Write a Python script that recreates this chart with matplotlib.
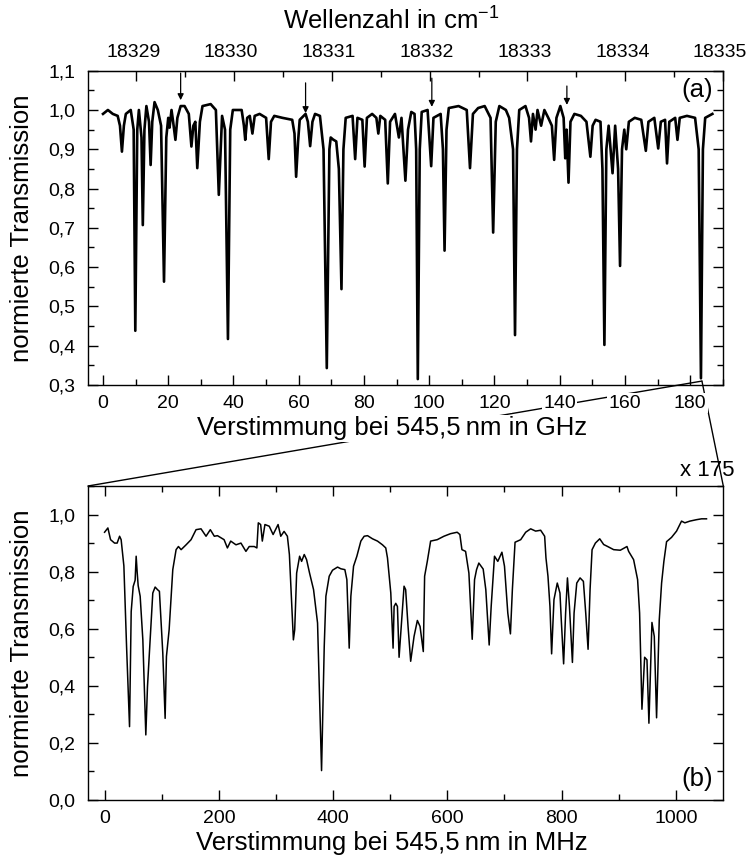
import matplotlib
matplotlib.use("Agg")
import matplotlib.pyplot as plt
import matplotlib.transforms as mtransforms
from matplotlib.ticker import MultipleLocator, FuncFormatter, FixedLocator
from matplotlib.patches import ConnectionPatch

plt.rcParams['font.family'] = ['Liberation Sans', 'DejaVu Sans']

# ---- panel (a): detuning in GHz vs. normalized transmission ----
a_x = [0.0, 1.5, 3.0, 4.5, 5.2, 5.8, 6.4, 7.0, 8.5, 9.4, 9.9, 10.5, 11.0, 11.8, 12.2, 12.7,
       13.3, 14.1, 14.6, 15.1, 15.8, 16.8, 17.8, 18.7, 19.4, 20.0, 20.4, 21.0, 21.5, 22.2, 22.8,
       23.8, 25.0, 26.3, 27.1, 27.7, 28.3, 28.9, 29.7, 30.5, 33.0, 34.6, 35.5, 36.5, 37.4,
       38.3, 39.0, 39.8, 42.5, 43.2, 43.6, 44.2, 45.0, 45.8, 46.5, 48.0, 50.0, 50.8, 51.5,
       52.5, 55.0, 58.0, 58.7, 59.2, 59.8, 60.3, 61.5, 62.1, 62.8, 63.5, 64.2, 65.0, 66.5,
       67.6, 68.6, 69.4, 69.8, 70.5, 71.5, 72.3, 73.1, 73.7, 74.4, 76.5, 77.3, 78.0, 79.5,
       80.2, 80.9, 82.5, 83.8, 84.4, 85.0, 86.5, 87.3, 88.0, 89.5, 90.7, 91.5, 92.7, 93.5,
       94.5, 95.5, 96.0, 96.5, 97.1, 97.7, 99.5, 100.6, 101.3, 103.5, 104.2, 104.7, 105.3,
       106.0, 109.0, 111.5, 112.5, 113.4, 115.0, 117.0, 118.8, 119.6, 120.4, 121.5, 123.5,
       124.5, 125.7, 126.3, 126.9, 127.6, 129.5, 130.6, 131.2, 131.8, 132.6, 133.2, 134.3,
       135.3, 136.5, 137.6, 138.3, 139.0, 140.2, 141.2, 141.7, 142.1, 142.7, 143.3, 144.5,
       146.5, 148.2, 149.4, 150.1, 151.0, 152.5, 153.1, 153.7, 154.3, 155.0, 156.2, 157.0,
       157.9, 158.5, 159.1, 159.8, 160.4, 161.2, 163.0, 165.0, 166.4, 167.2, 169.0, 170.2,
       171.0, 172.3, 172.9, 173.6, 175.4, 176.1, 176.8, 179.0, 181.5, 182.6, 183.3, 183.9,
       184.6, 186.8]
a_y = [0.99, 1.0, 0.99, 0.985, 0.96, 0.894, 0.96, 0.99, 1.0, 0.95, 0.438, 0.95, 1.0, 0.93, 0.707, 0.95,
       1.01, 0.97, 0.86, 0.97, 1.02, 1.0, 0.96, 0.563, 0.93, 0.98, 0.955, 1.0, 0.97, 0.924, 0.98,
       1.01, 1.01, 0.99, 0.907, 0.96, 0.97, 0.852, 0.97, 1.01, 1.015, 1.0, 0.784, 0.985, 0.95,
       0.417, 0.95, 1.0, 1.0, 0.96, 0.924, 0.98, 0.985, 0.94, 0.985, 0.99, 0.98, 0.875, 0.97,
       0.985, 0.98, 0.975, 0.94, 0.83, 0.92, 0.975, 0.985, 0.99, 0.97, 0.908, 0.97, 0.99, 0.985,
       0.9, 0.343, 0.9, 0.93, 0.925, 0.92, 0.85, 0.544, 0.9, 0.98, 0.985, 0.875, 0.98, 0.975,
       0.856, 0.98, 0.99, 0.98, 0.94, 0.985, 0.975, 0.813, 0.97, 0.99, 0.93, 0.98, 0.82, 0.95,
       0.995, 0.99, 0.9, 0.315, 0.9, 0.995, 1.0, 0.857, 0.98, 0.99, 0.9, 0.642, 0.95,
       1.005, 1.01, 1.0, 0.852, 0.99, 1.005, 1.01, 0.98, 0.688, 0.97, 1.01, 1.0,
       0.98, 0.9, 0.427, 0.9, 1.0, 1.01, 0.98, 0.92, 0.99, 0.95, 1.0, 0.96,
       1.0, 0.98, 0.96, 0.873, 0.98, 1.01, 0.98, 0.877, 0.95, 0.815, 0.97, 0.99,
       0.985, 0.97, 0.881, 0.96, 0.975, 0.97, 0.85, 0.402, 0.9, 0.96, 0.839, 0.96,
       0.85, 0.603, 0.9, 0.95, 0.9, 0.97, 0.98, 0.975, 0.896, 0.97, 0.98, 0.902,
       0.97, 0.975, 0.864, 0.97, 0.98, 0.924, 0.98, 0.985, 0.98, 0.9, 0.317, 0.9,
       0.98, 0.99]

# arrows in panel (a): position (GHz), tail and head heights
arrow_x = [23.8, 62.1, 100.8, 142.2]
arrow_tail = [1.094, 1.069, 1.081, 1.061]
arrow_head = [1.025, 0.992, 1.008, 1.013]

# ---- panel (b): detuning in MHz vs. normalized transmission ----
b_x = [0.0, 5.8, 10.5, 17.5, 22.0, 26.3, 29.0, 33.8, 38.5, 43.7, 44.9, 46.6, 50.1, 53.5, 55.3, 57.0,
       58.8, 62.3, 67.0, 72.2, 75.1, 79.7, 84.4, 88.5, 92.6, 96.0, 101.9, 106.0, 108.3, 113.0,
       119.4, 125.2, 129.3, 134.0, 142.7, 151.4, 160.1, 168.8, 177.6, 185.1, 192.1, 197.6, 209.2,
       215.0, 220.8, 230.0, 238.7, 247.4, 253.2, 262.0, 266.6, 269.1, 273.2, 276.1, 280.7, 288.3,
       295.0, 303.7, 308.4, 314.2, 320.0, 323.5, 327.0, 330.5, 332.8, 336.2, 341.4, 344.9, 349.5,
       353.6, 358.8, 365.8, 372.8, 379.8, 384.5, 387.4, 393.2, 399.0, 407.8, 413.6, 420.6, 424.1,
       428.2, 431.1, 435.8, 441.6, 448.6, 454.4, 460.3, 469.0, 477.7, 486.4, 492.2, 495.2, 501.0,
       505.0, 506.8, 509.7, 512.6, 515.5, 519.6, 524.2, 527.0, 531.2, 535.8, 541.7, 547.5, 552.2,
       557.9, 560.2, 564.9, 570.7, 582.3, 594.0, 605.6, 617.2, 621.9, 625.5, 631.9, 637.7, 640.6,
       643.5, 647.6, 651.1, 655.1, 662.7, 667.3, 673.2, 676.7, 682.5, 688.3, 695.5, 700.0, 705.8,
       710.4, 713.8, 718.5, 728.4, 737.1, 745.8, 754.5, 763.3, 770.3, 772.6, 776.1, 779.6, 782.5,
       786.6, 792.4, 797.1, 799.4, 803.5, 807.0, 810.2, 813.7, 818.9, 821.8, 826.5, 832.3, 838.1,
       842.2, 846.3, 849.8, 853.3, 859.1, 866.7, 873.6, 880.6, 891.1, 902.7, 914.4, 917.3, 926.0,
       933.0, 936.5, 940.6, 945.3, 949.4, 952.8, 958.1, 962.2, 966.2, 970.9, 975.0, 979.0, 983.7,
       992.4, 1001.2, 1009.9, 1015.7, 1024.5, 1036.1, 1044.9, 1053.6]
b_y = [0.938, 0.953, 0.912, 0.90, 0.90, 0.924, 0.912, 0.82, 0.538, 0.257, 0.42, 0.66, 0.748, 0.77, 0.854, 0.80,
       0.751, 0.714, 0.561, 0.228, 0.397, 0.561, 0.725, 0.746, 0.737, 0.731, 0.515, 0.286, 0.503, 0.596,
       0.807, 0.877, 0.888, 0.877, 0.894, 0.912, 0.947, 0.950, 0.924, 0.947, 0.924, 0.926, 0.912,
       0.883, 0.907, 0.894, 0.900, 0.871, 0.888, 0.888, 0.883, 0.971, 0.965, 0.907, 0.965, 0.959,
       0.930, 0.965, 0.924, 0.941, 0.924, 0.860, 0.714, 0.561, 0.596, 0.795, 0.854, 0.836, 0.860,
       0.842, 0.795, 0.737, 0.620, 0.103, 0.538, 0.714, 0.784, 0.805, 0.816, 0.810, 0.807, 0.772,
       0.532, 0.714, 0.819, 0.854, 0.907, 0.924, 0.926, 0.915, 0.907, 0.894, 0.883, 0.848, 0.725,
       0.532, 0.678, 0.689, 0.678, 0.500, 0.620, 0.749, 0.737, 0.608, 0.486, 0.573, 0.629, 0.608,
       0.520, 0.784, 0.836, 0.907, 0.912, 0.924, 0.933, 0.938, 0.930, 0.877, 0.871, 0.795, 0.678,
       0.563, 0.772, 0.807, 0.830, 0.809, 0.737, 0.543, 0.678, 0.854, 0.836, 0.868, 0.819, 0.655,
       0.582, 0.737, 0.903, 0.912, 0.938, 0.950, 0.942, 0.945, 0.924, 0.848, 0.784, 0.678, 0.512,
       0.702, 0.760, 0.725, 0.631, 0.477, 0.655, 0.778, 0.678, 0.482, 0.655, 0.760, 0.778, 0.766,
       0.655, 0.528, 0.737, 0.877, 0.900, 0.915, 0.895, 0.888, 0.877, 0.875, 0.888, 0.871, 0.842,
       0.772, 0.655, 0.318, 0.500, 0.491, 0.269, 0.622, 0.573, 0.288, 0.631, 0.760, 0.836, 0.905,
       0.920, 0.942, 0.977, 0.971, 0.977, 0.982, 0.985, 0.985]

# wavenumber scale (top axis of panel a)
wn_ref = 18329.0     # cm^-1 at ...
ghz_ref = 10.2       # ... this detuning in GHz
ghz_per_wn = 29.98
wn_ticks = [18329, 18330, 18331, 18332, 18333, 18334, 18335]

W, H = 752, 859
fig = plt.figure(figsize=(W / 100, H / 100), dpi=100)

def rect(l, r, t, b):
    return [l / W, 1 - b / H, (r - l) / W, (b - t) / H]

axa = fig.add_axes(rect(88, 723.3, 70.7, 385))
axb = fig.add_axes(rect(88, 723.3, 486, 800))

comma = FuncFormatter(lambda v, p: f"{v:.1f}".replace('.', ','))
tick_fs = 14
label_fs = 18.5
xpad = 7
ypad = 9
label_xc = 0.478   # horizontal centre of the axis titles (axes fraction)

def style_ticks(ax, top):
    ax.tick_params(which='both', direction='in', top=top, right=True, labelsize=tick_fs, width=1)
    ax.tick_params(axis='x', which='both', pad=xpad)
    ax.tick_params(axis='y', which='both', pad=ypad)
    ax.tick_params(which='major', length=7)
    ax.tick_params(which='minor', length=4)

# panel a
axa.plot(a_x, a_y, color='black', lw=1.9, solid_joinstyle='round')
XLIM_A = (-4.6, 190.15)
axa.set_xlim(*XLIM_A)
axa.set_ylim(0.3, 1.1)
axa.xaxis.set_major_locator(MultipleLocator(20))
axa.xaxis.set_minor_locator(MultipleLocator(10))
axa.yaxis.set_major_locator(MultipleLocator(0.1))
axa.yaxis.set_minor_locator(MultipleLocator(0.05))
axa.yaxis.set_major_formatter(comma)
style_ticks(axa, False)
axa.set_xlabel('Verstimmung bei 545,5\u2009nm in GHz', fontsize=label_fs, labelpad=2,
               bbox=dict(facecolor='white', edgecolor='none', pad=1))
axa.xaxis.set_label_coords(label_xc, -0.1)
axa.xaxis.label.set_va('top')
axa.set_ylabel('normierte Transmission', fontsize=label_fs, labelpad=10)
axa.text(0.984, 0.939, '(a)', transform=axa.transAxes, ha='right', va='center', fontsize=label_fs)
for xa, yt, yh in zip(arrow_x, arrow_tail, arrow_head):
    axa.annotate('', xy=(xa, yh), xytext=(xa, yt),
                 arrowprops=dict(arrowstyle='-|>', color='black', lw=0.9, mutation_scale=9,
                                 shrinkA=0, shrinkB=0))

sec = axa.secondary_xaxis('top', functions=(lambda g: wn_ref + (g - ghz_ref) / ghz_per_wn,
                                             lambda w: ghz_ref + (w - wn_ref) * ghz_per_wn))
sec.xaxis.set_minor_locator(MultipleLocator(0.5))
sec.set_xticks(wn_ticks, [str(t) for t in wn_ticks])
sec.tick_params(which='both', direction='in', labelsize=tick_fs, width=1, pad=xpad)
sec.tick_params(which='major', length=7)
sec.tick_params(which='minor', length=4)
sec.set_xlabel('Wellenzahl in cm$^{\\mathregular{-1}}$', fontsize=label_fs)
sec.xaxis.set_label_coords(label_xc, 1.161, transform=axa.transAxes)
sec.xaxis.label.set_va('center')
shift = mtransforms.ScaledTranslation(-3 / 100, 0, fig.dpi_scale_trans)
for lbl in sec.xaxis.get_majorticklabels():
    lbl.set_transform(lbl.get_transform() + shift)

# panel b
axb.plot(b_x, b_y, color='black', lw=1.1)
axb.set_xlim(-29, 1083)
axb.set_ylim(0.0, 1.1)
axb.xaxis.set_major_locator(MultipleLocator(200))
axb.xaxis.set_minor_locator(MultipleLocator(100))
axb.yaxis.set_major_locator(MultipleLocator(0.2))
axb.yaxis.set_minor_locator(MultipleLocator(0.1))
axb.yaxis.set_major_formatter(comma)
style_ticks(axb, True)
axb.set_xlabel('Verstimmung bei 545,5\u2009nm in MHz', fontsize=label_fs, labelpad=2)
axb.xaxis.set_label_coords(label_xc, -0.1)
axb.xaxis.label.set_va('top')
axb.set_ylabel('normierte Transmission', fontsize=label_fs, labelpad=10)
axb.text(0.984, 0.067, '(b)', transform=axb.transAxes, ha='right', va='center', fontsize=label_fs)

for ax in (axa, axb):
    for s in ax.spines.values():
        s.set_linewidth(1.0)
    ax.patch.set_visible(False)

axa.set_xticks(axa.get_xticks())
axa.set_xlim(*XLIM_A)
for lbl in axa.get_xticklabels():
    lbl.set_bbox(dict(facecolor='white', edgecolor='none', pad=1))

# zoom indicator lines
zoom_src = (183.6, 0.31)
for corner in [(0, 1), (1, 1)]:
    con = ConnectionPatch(xyA=zoom_src, coordsA=axa.transData, xyB=corner, coordsB=axb.transAxes,
                          color='black', lw=1.0, zorder=-1)
    fig.add_artist(con)

fig.text(735 / W, 1 - 470 / H, 'x 175', ha='right', va='center', fontsize=16)

fig.savefig('out.png', dpi=100)
